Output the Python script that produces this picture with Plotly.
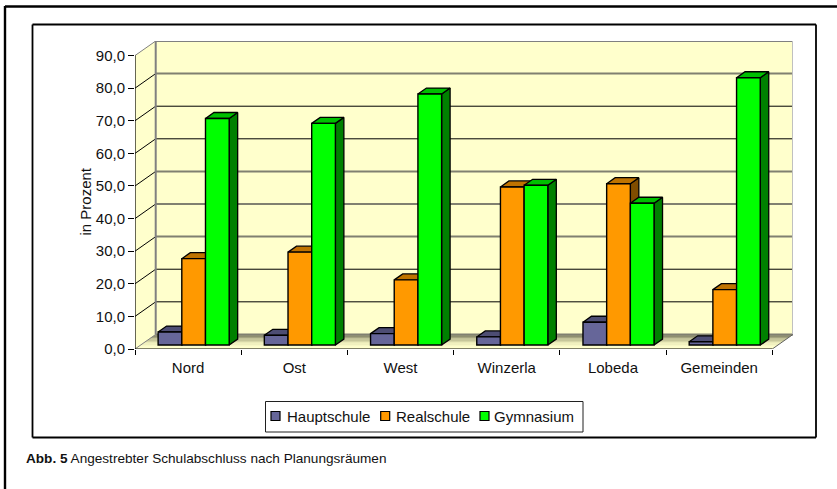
import plotly.graph_objects as go

categories = ["Nord", "Ost", "West", "Winzerla", "Lobeda", "Gemeinden"]
hauptschule = [4.0, 3.0, 3.5, 2.5, 7.0, 1.0]
realschule = [26.5, 28.5, 20.0, 48.5, 49.5, 17.0]
gymnasium = [69.5, 68.0, 77.0, 49.0, 43.5, 82.0]
y_ticks = [0, 10, 20, 30, 40, 50, 60, 70, 80, 90]
y_labels = ["0,0", "10,0", "20,0", "30,0", "40,0", "50,0", "60,0", "70,0", "80,0", "90,0"]
GRAY, BLACK = "#808070", "#000000"
grid_colors = [GRAY, BLACK, BLACK, GRAY, GRAY, GRAY, BLACK, BLACK, GRAY, GRAY]

series = [
    ("Hauptschule", hauptschule, "#666699", "#4d4d73", "#33334d"),
    ("Realschule", realschule, "#FF9900", "#BF7300", "#804D00"),
    ("Gymnasium", gymnasium, "#00FF00", "#00BF00", "#008000"),
]
legend_swatch_x = [271, 380.7, 480]
legend_text_x = [286.7, 396, 494.3]

W, H = 837, 489
L, R, T, B = 135, 793, 41, 349
DEPTH_X, DEPTH_Y = 0.195, 4.47
BAR_W, GAP, D0, D1 = 0.223, 0.165, 0.27, 0.68
WALL = "#FFFFCC"

def px(x):
    return (x - L) / (R - L)

def py(y):
    return (B - y) / (B - T)

def proj(x, v, d):
    return x + d * DEPTH_X, v + d * DEPTH_Y

def poly(points):
    return "M" + "L".join(f"{a},{b}" for a, b in points) + "Z"

fig = go.Figure()
shapes = []
xmax = len(categories)
ymax = y_ticks[-1]

def s(path, fill):
    shapes.append(dict(type="path", path=path, xref="x", yref="y", fillcolor=fill, layer="below",
                       line=dict(color="rgba(0,0,0,0)", width=0)))

# walls
s(poly([proj(0, 0, 0), proj(0, 0, 1), proj(0, ymax, 1), proj(0, ymax, 0)]), WALL)
s(poly([proj(0, 0, 1), proj(xmax, 0, 1), proj(xmax, ymax, 1), proj(0, ymax, 1)]), WALL)
s(poly([proj(0, 0, 0), proj(xmax, 0, 0), proj(xmax, 0, 1), proj(0, 0, 1)]), WALL)

# floor shadow gradient
shade = ["#808066", "#8F8F70", "#A3A37F", "#B5B58C", "#C7C79A", "#D7D7A8", "#E6E6B5", "#F0F0BE", "#F8F8C6"]
for n, c in enumerate(shade):
    d_hi = 1 - n * 0.09
    d_lo = d_hi - 0.09
    s(poly([proj(0, 0, d_lo), proj(xmax, 0, d_lo), proj(xmax, 0, d_hi), proj(0, 0, d_hi)]), c)

# gridlines
for v, c in zip(y_ticks, grid_colors):
    a = proj(0, v, 0)
    b = proj(0, v, 1)
    e = proj(xmax, v, 1)
    wall_w = 2 if c == GRAY else 1
    shapes.append(dict(type="path", path=f"M{b[0]},{b[1]}L{e[0]},{e[1]}", xref="x", yref="y", layer="below",
                       line=dict(color=c, width=wall_w)))
    shapes.append(dict(type="path", path=f"M{a[0]},{a[1]}L{b[0]},{b[1]}", xref="x", yref="y", layer="below",
                       line=dict(color="#808080" if v in (0, ymax) else BLACK, width=1)))

# wall edges
b = proj(0, 0, 1)
c = proj(0, ymax, 1)
d = proj(xmax, ymax, 1)
e = proj(xmax, 0, 1)
f = proj(xmax, 0, 0)
for p, q, col, w in [(b, c, "#808080", 2), (c, d, "#808080", 2), (d, e, "#C0C0C0", 2), (e, f, "#606060", 1)]:
    shapes.append(dict(type="path", path=f"M{p[0]},{p[1]}L{q[0]},{q[1]}", xref="x", yref="y",
                       layer="below", line=dict(color=col, width=w)))

# depth faces, drawn below the bar fronts
for k, (name, vals, col, top, side) in enumerate(series):
    for i, v in enumerate(vals):
        x0 = i + GAP + k * BAR_W
        x1 = x0 + BAR_W
        tp = [proj(x0, v, D0), proj(x1, v, D0), proj(x1, v, D1), proj(x0, v, D1), proj(x0, v, D0)]
        sd = [proj(x1, 0, D0), proj(x1, 0, D1), proj(x1, v, D1), proj(x1, v, D0), proj(x1, 0, D0)]
        for pts, fc in ((sd, side), (tp, top)):
            fig.add_trace(go.Scatter(x=[p[0] for p in pts], y=[p[1] for p in pts], mode="lines", fill="toself",
                                     fillcolor=fc, line=dict(color="#000000", width=1.3),
                                     showlegend=False, hoverinfo="skip", xaxis="x", yaxis="y"))

# bar fronts
for k, (name, vals, col, top, side) in enumerate(series):
    xs = [proj(i + GAP + (k + 0.5) * BAR_W, 0, D0)[0] for i in range(len(categories))]
    fig.add_trace(go.Bar(x=xs, y=vals, base=D0 * DEPTH_Y, width=BAR_W, name=name, showlegend=False,
                         marker=dict(color=col, line=dict(color="#000000", width=1.4)),
                         xaxis="x2", yaxis="y2"))

# frames
for x0, y0, x1, y1, w in [(5, 6.5, 837, 6.5, 2.4), (5, 6, 5, 489, 2.4),
                          (32.5, 24.5, 816, 24.5, 1.8), (816, 24.5, 816, 437.5, 1.8),
                          (32.5, 437.5, 816, 437.5, 1.8), (32.5, 24.5, 32.5, 437.5, 1.8)]:
    shapes.append(dict(type="line", xref="paper", yref="paper", x0=px(x0), y0=py(y0), x1=px(x1), y1=py(y1),
                       line=dict(color="#000000", width=w)))

# legend box and entries
shapes.append(dict(type="rect", xref="paper", yref="paper", x0=px(265.5), y0=py(401.5), x1=px(583), y1=py(432),
                   fillcolor="white", line=dict(color="#202020", width=1)))
annotations = [
    dict(text="in Prozent", xref="paper", yref="paper", x=px(74), y=py(202), textangle=-90, showarrow=False,
         font=dict(size=15)),
    dict(text="<b>Abb. 5</b> Angestrebter Schulabschluss nach Planungsräumen", xref="paper", yref="paper",
         x=px(26), y=py(458), xanchor="left", yanchor="middle", showarrow=False, xshift=-2,
         font=dict(size=13.6)),
]
for (name, vals, col, top, side), sx, tx in zip(series, legend_swatch_x, legend_text_x):
    shapes.append(dict(type="rect", xref="paper", yref="paper", x0=px(sx), y0=py(411.5), x1=px(sx + 9), y1=py(420.5),
                       fillcolor=col, line=dict(color="black", width=1.2)))
    annotations.append(dict(text=name, xref="paper", yref="paper", x=px(tx), y=py(416), xanchor="left",
                            yanchor="middle", showarrow=False, xshift=-2, font=dict(size=15)))

font = "Liberation Sans"
xr = [0, xmax + DEPTH_X]
yr = [0, ymax + DEPTH_Y]
fig.update_layout(
    width=W, height=H, autosize=False,
    margin=dict(l=L, r=W - R, t=T, b=H - B, pad=0),
    paper_bgcolor="white", plot_bgcolor="rgba(0,0,0,0)",
    font=dict(family=font, size=15, color="#111111"),
    barmode="overlay", shapes=shapes, showlegend=False, annotations=annotations,
    xaxis=dict(range=xr, tickmode="array", tickvals=list(range(xmax + 1)), ticktext=[""] * (xmax + 1),
               ticks="outside", ticklen=5, tickwidth=1, tickcolor="black", showgrid=False, zeroline=False,
               showline=False),
    yaxis=dict(range=yr, tickmode="array", tickvals=y_ticks, ticktext=y_labels, ticks="outside", ticklen=6,
               tickwidth=1, tickcolor="black", showgrid=False, zeroline=False, showline=False),
    xaxis2=dict(range=xr, overlaying="x", anchor="y2", side="bottom", tickmode="array",
                tickvals=[i + 0.5 for i in range(xmax)], ticktext=categories, ticks="", showgrid=False,
                zeroline=False, showline=False, ticklabelstandoff=8),
    yaxis2=dict(range=yr, overlaying="y", anchor="x2", showticklabels=False, ticks="", showgrid=False,
                zeroline=False, showline=False),
)
# axis lines along the front edge
fig.add_trace(go.Scatter(x=[xmax, 0, 0], y=[0, 0, ymax], mode="lines", line=dict(color="black", width=1.2),
                         showlegend=False, hoverinfo="skip", xaxis="x2", yaxis="y2", cliponaxis=False))
fig.write_html("out.html", config={"displayModeBar": False},
               post_script="document.body.style.margin='0';document.documentElement.style.overflow='hidden';")
